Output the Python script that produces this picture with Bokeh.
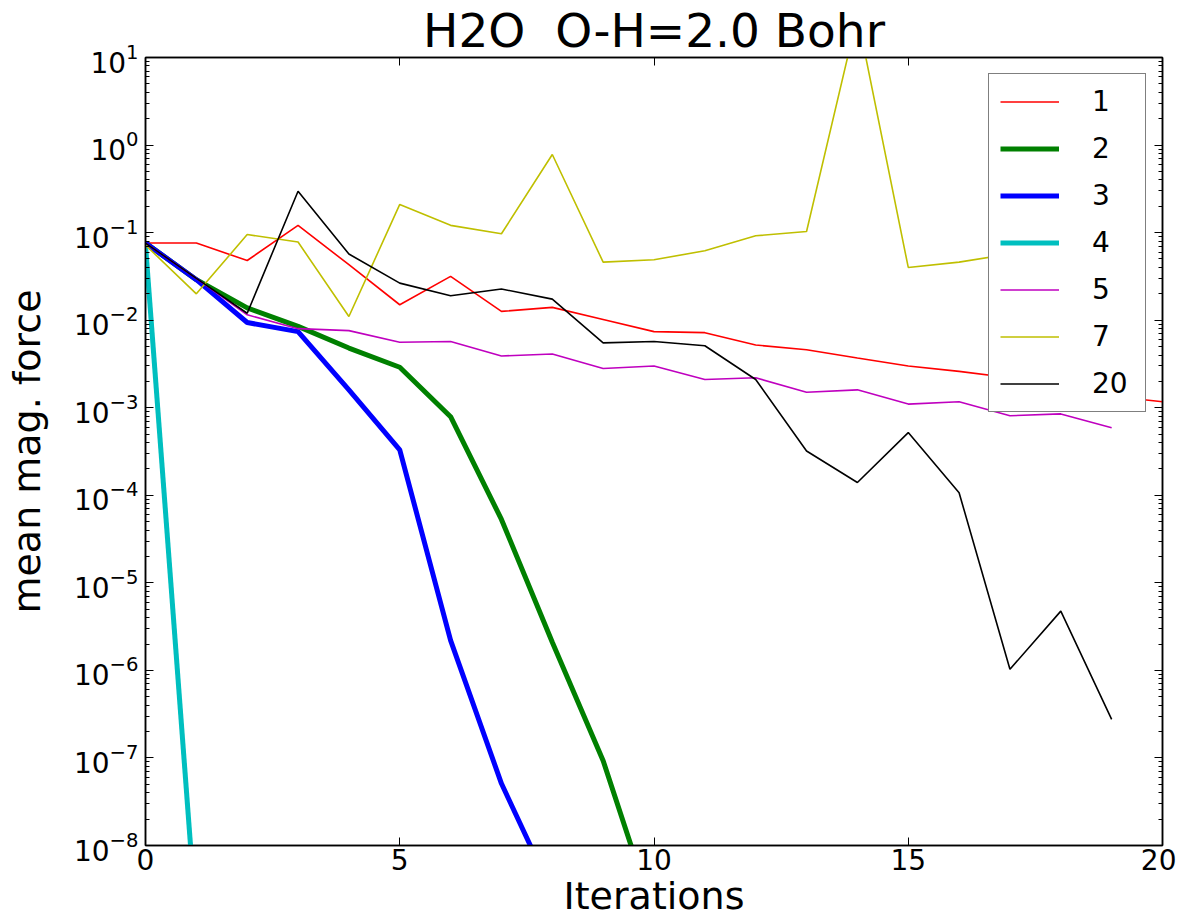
from bokeh.plotting import figure
from bokeh.models import (LogAxis, LinearAxis, Legend, LegendItem, Range1d,
                          FixedTicker, LogTicker)
from bokeh.embed import file_html
from bokeh.resources import INLINE

# ---- data ----
iters_1 = list(range(21))
force_1 = [0.076, 0.076, 0.048, 0.121, 0.043, 0.015, 0.0316, 0.0126, 0.014, 0.0102,
           0.0074, 0.0072, 0.0052, 0.0046, 0.0037, 0.0030, 0.0026, 0.0022, 0.0018,
           0.00135, 0.00117]

iters_2 = list(range(11))
force_2 = [0.076, 0.029, 0.0138, 0.0085, 0.0048, 0.0029, 0.00079, 5.3e-5, 2.1e-6,
           9.3e-8, 1.6e-9]

iters_3 = list(range(9))
force_3 = [0.076, 0.029, 0.0094, 0.0074, 0.0016, 0.00033, 2.2e-6, 5.1e-8, 2.9e-9]

iters_4 = [0, 1]
force_4 = [0.072, 1.3e-9]

iters_5 = list(range(20))
force_5 = [0.076, 0.030, 0.0115, 0.0080, 0.0076, 0.0056, 0.0057, 0.0039, 0.0041,
           0.0028, 0.0030, 0.0021, 0.0022, 0.0015, 0.0016, 0.0011, 0.00117, 0.00081,
           0.00085, 0.00059]

iters_7 = list(range(20))
force_7 = [0.072, 0.020, 0.095, 0.078, 0.011, 0.21, 0.121, 0.097, 0.78, 0.046,
           0.049, 0.062, 0.092, 0.103, 30.0, 0.040, 0.046, 0.057, 0.068, 0.078]

iters_20 = list(range(20))
force_20 = [0.076, 0.030, 0.012, 0.297, 0.057, 0.0265, 0.019, 0.0227, 0.0174,
            0.0055, 0.0057, 0.0051, 0.0021, 0.00032, 0.00014, 0.00052, 0.000107,
            1.03e-6, 4.75e-6, 2.76e-7]

series_labels = ["1", "2", "3", "4", "5", "7", "20"]
series_colors = ["#ff0000", "#008000", "#0000ff", "#00bfbf", "#bf00bf", "#bfbf00", "#000000"]
series_widths = [1.6, 5, 5, 5, 1.6, 1.6, 1.6]
series_x = [iters_1, iters_2, iters_3, iters_4, iters_5, iters_7, iters_20]
series_y = [force_1, force_2, force_3, force_4, force_5, force_7, force_20]

title_text = "H2O\u00a0 O-H=2.0 Bohr"
x_label = "Iterations"
y_label = "mean mag. force"

FONT = "DejaVu Sans"

p = figure(frame_width=1017, frame_height=788, y_axis_type="log",
           x_range=Range1d(0, 20), y_range=Range1d(1e-8, 1e1),
           output_backend="svg", toolbar_location=None,
           title=title_text,
           min_border_left=145, min_border_top=10, min_border_right=14,
           min_border_bottom=10)

p.title.align = "center"
p.title.text_font = FONT
p.title.text_font_size = "47px"
p.title.text_font_style = "normal"
p.title.text_color = "black"
p.title.standoff = 0

p.outline_line_color = "black"
p.outline_line_width = 1.5
p.grid.visible = False
p.background_fill_color = "white"
p.border_fill_color = "white"

renderers = []
for xs, ys, c, w in zip(series_x, series_y, series_colors, series_widths):
    r = p.line(xs, ys, line_color=c, line_width=w)
    renderers.append(r)

# axes styling
xax = p.xaxis[0]
xax.ticker = FixedTicker(ticks=[0, 5, 10, 15, 20], minor_ticks=[])
xax.axis_label = x_label
yax = p.yaxis[0]
yax.axis_label = y_label
yax.ticker = LogTicker(num_minor_ticks=10)

for ax in (xax, yax):
    ax.axis_label_text_font = FONT
    ax.axis_label_text_font_size = "38px"
    ax.axis_label_text_font_style = "normal"
    ax.axis_label_text_color = "black"
    ax.major_label_text_font = FONT
    ax.major_label_text_font_size = "28px"
    ax.major_label_text_color = "black"
    ax.axis_line_color = "black"
    ax.axis_line_width = 1.5
    ax.major_tick_in = 8
    ax.major_tick_out = 0
    ax.minor_tick_in = 4
    ax.minor_tick_out = 0
    ax.major_tick_line_color = "black"
    ax.minor_tick_line_color = "black"
xax.major_label_standoff = 3
xax.axis_label_standoff = 1
yax.major_label_standoff = 7
yax.axis_label_standoff = 22

# mirrored axes (ticks only) on top and right
top = LinearAxis(ticker=FixedTicker(ticks=[0, 5, 10, 15, 20], minor_ticks=[]))
right = LogAxis(ticker=LogTicker(num_minor_ticks=10))
for ax in (top, right):
    ax.major_label_text_font_size = "0px"
    ax.major_label_text_alpha = 0
    ax.axis_line_color = "black"
    ax.axis_line_width = 1.5
    ax.major_tick_in = 8
    ax.major_tick_out = 0
    ax.minor_tick_in = 4
    ax.minor_tick_out = 0
    ax.major_label_standoff = 0
p.add_layout(top, "above")
p.add_layout(right, "right")

legend = Legend(items=[LegendItem(label=l, renderers=[r])
                       for l, r in zip(series_labels, renderers)],
                location="top_right")
legend.margin = 16
legend.padding = 11
legend.spacing = 14
legend.glyph_width = 59
legend.glyph_height = 33
legend.label_height = 33
legend.label_width = 42
legend.label_standoff = 33
legend.label_text_font = FONT
legend.label_text_font_size = "28px"
legend.label_text_color = "black"
legend.border_line_color = "black"
legend.border_line_width = 1.5
legend.background_fill_color = "white"
legend.background_fill_alpha = 1.0
p.add_layout(legend)

open("out.html", "w").write(file_html(p, INLINE))
